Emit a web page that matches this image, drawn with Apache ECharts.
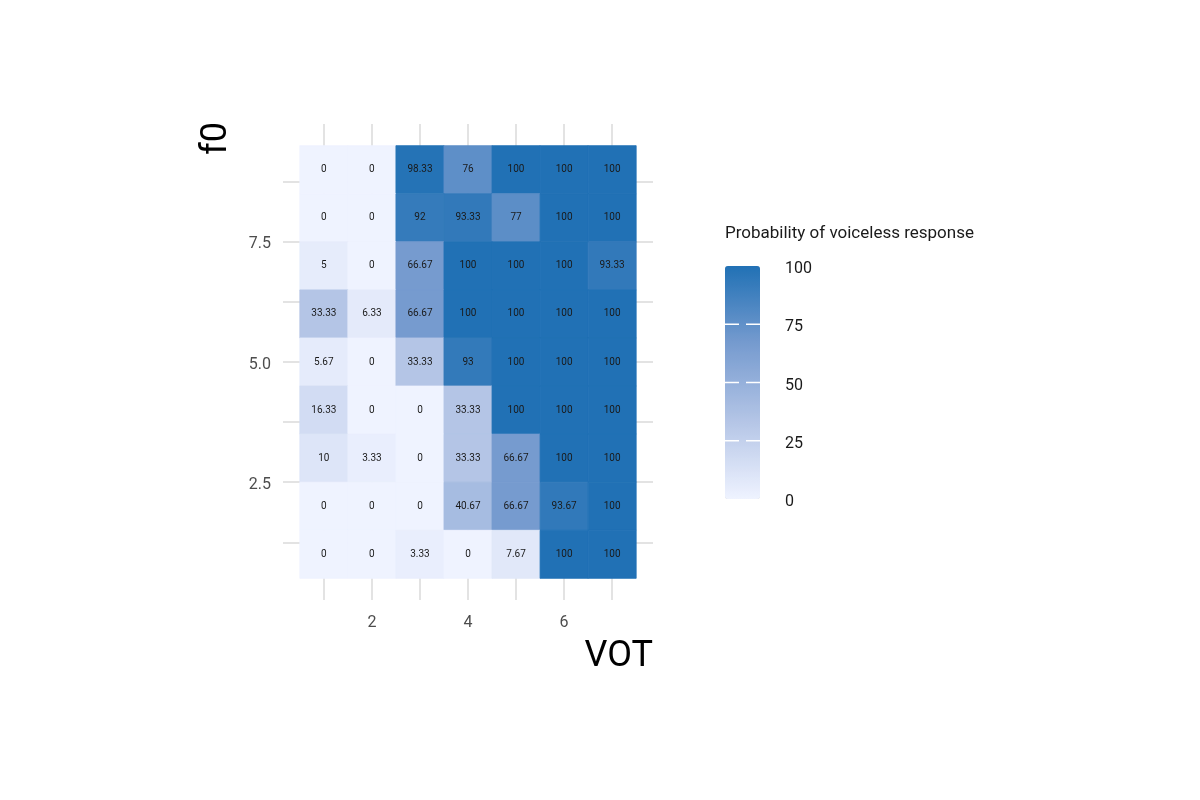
<!DOCTYPE html>
<html>
<head>
<meta charset="utf-8">
<script src="https://cdn.jsdelivr.net/npm/echarts@6/dist/echarts.min.js"></script>
<style>
  html, body { margin: 0; padding: 0; background: #fff; }
  #chart { width: 1200px; height: 800px; }
</style>
</head>
<body>
<div id="chart"></div>
<script>
// VOT steps (columns) and f0 steps (rows, listed top to bottom)
var votSteps = [1, 2, 3, 4, 5, 6, 7];
var f0Steps = [9, 8, 7, 6, 5, 4, 3, 2, 1];
// probability of voiceless response, one row per f0 step
var probRows = [
    [0, 0, 98.33, 76, 100, 100, 100],
    [0, 0, 92, 93.33, 77, 100, 100],
    [5, 0, 66.67, 100, 100, 100, 93.33],
    [33.33, 6.33, 66.67, 100, 100, 100, 100],
    [5.67, 0, 33.33, 93, 100, 100, 100],
    [16.33, 0, 0, 33.33, 100, 100, 100],
    [10, 3.33, 0, 33.33, 66.67, 100, 100],
    [0, 0, 0, 40.67, 66.67, 93.67, 100],
    [0, 0, 3.33, 0, 7.67, 100, 100]
];
var xLabelTicks = [2, 4, 6];
var yGridTicks = [1.25, 2.5, 3.75, 5, 6.25, 7.5, 8.75];
var yLabelTicks = [2.5, 5, 7.5];
var legendTicks = [0, 25, 50, 75, 100];
var legendInnerTicks = [25, 50, 75];

var font = "Roboto, 'Liberation Sans', sans-serif";
var gridColor = '#dadada';

var cells = [];
f0Steps.forEach(function (f, r) {
    votSteps.forEach(function (v, c) {
        cells.push([v, f, probRows[r][c]]);
    });
});

function renderTile(params, api) {
    var x = api.value(0), y = api.value(1), val = api.value(2);
    var p0 = api.coord([x - 0.5, y + 0.5]);
    var p1 = api.coord([x + 0.5, y - 0.5]);
    var c = api.visual('color');
    return {
        type: 'group',
        children: [{
            type: 'rect',
            shape: {x: p0[0], y: p0[1], width: p1[0] - p0[0], height: p1[1] - p0[1]},
            style: {fill: c, stroke: c, lineWidth: 0.8}
        }, {
            type: 'text',
            z2: 10,
            style: {
                text: String(val),
                x: (p0[0] + p1[0]) / 2,
                y: (p0[1] + p1[1]) / 2,
                align: 'center',
                verticalAlign: 'middle',
                font: '10px ' + font,
                fill: '#1a1a1a'
            }
        }]
    };
}

// white colourbar ticks on both edges of the legend bar
function renderBarTick(params, api) {
    var v = api.value(0);
    var l = api.coord([0, v]);
    var r = api.coord([1, v]);
    var len = (r[0] - l[0]) * 0.4;
    var st = {stroke: '#fff', lineWidth: 1.5};
    return {
        type: 'group',
        children: [
            {type: 'line', shape: {x1: l[0], y1: l[1], x2: l[0] + len, y2: l[1]}, style: st},
            {type: 'line', shape: {x1: r[0] - len, y1: r[1], x2: r[0], y2: r[1]}, style: st}
        ]
    };
}

function shifted(s) { return '{a|' + s + '}'; }

var myChart = echarts.init(document.getElementById('chart'));
var option = {
    backgroundColor: '#fff',
    animation: false,
    title: [{
        text: 'VOT',
        right: 547,
        top: 639,
        padding: 0,
        textStyle: {fontFamily: font, fontSize: 36, fontWeight: 'normal', color: '#000'}
    }, {
        text: 'Probability of voiceless response',
        left: 725,
        top: 225,
        padding: 0,
        textStyle: {fontFamily: font, fontSize: 17, fontWeight: 'normal', color: '#1a1a1a'}
    }],
    graphic: [{
        type: 'text',
        left: 199,
        top: 122,
        rotation: Math.PI / 2,
        style: {text: 'f0', font: '36px ' + font, fill: '#000'}
    }],
    grid: [
        {left: 283, top: 124, width: 370, height: 476},
        {left: 725, top: 266, width: 35, height: 233}
    ],
    xAxis: [{
        type: 'value',
        gridIndex: 0,
        min: 0.15,
        max: 7.85,
        axisLine: {show: false},
        axisTick: {show: false, customValues: votSteps},
        axisLabel: {
            customValues: xLabelTicks,
            margin: 15,
            color: '#4d4d4d',
            fontFamily: font,
            fontSize: 16
        },
        splitLine: {show: true, lineStyle: {color: gridColor, width: 1.5}}
    }, {
        type: 'value',
        gridIndex: 1,
        min: 0,
        max: 1,
        show: false
    }],
    yAxis: [{
        type: 'value',
        gridIndex: 0,
        min: 0.05,
        max: 9.95,
        axisLine: {show: false},
        axisTick: {show: false, customValues: yGridTicks},
        axisLabel: {
            customValues: yLabelTicks,
            formatter: function (v) { return shifted(v.toFixed(1)); },
            margin: 12,
            rich: {a: {padding: [5, 0, 0, 0], color: '#4d4d4d', fontFamily: font, fontSize: 16}}
        },
        splitLine: {show: true, lineStyle: {color: gridColor, width: 1.5}}
    }, {
        type: 'value',
        gridIndex: 1,
        position: 'right',
        min: 0,
        max: 100,
        axisLine: {show: false},
        axisTick: {show: false, customValues: legendTicks},
        axisLabel: {
            customValues: legendTicks,
            formatter: function (v) { return shifted(String(v)); },
            margin: 25,
            rich: {a: {padding: [6, 0, 0, 0], color: '#1a1a1a', fontFamily: font, fontSize: 16}}
        },
        splitLine: {show: false}
    }],
    visualMap: {
        type: 'continuous',
        min: 0,
        max: 100,
        dimension: 2,
        seriesIndex: 0,
        calculable: false,
        left: 725,
        top: 266,
        padding: 0,
        itemWidth: 35,
        itemHeight: 233,
        inRange: {color: ['#eff3ff', '#b4c5e6', '#769bcf', '#2171b5']}
    },
    series: [{
        type: 'custom',
        xAxisIndex: 0,
        yAxisIndex: 0,
        renderItem: renderTile,
        encode: {x: 0, y: 1},
        data: cells
    }, {
        type: 'custom',
        xAxisIndex: 1,
        yAxisIndex: 1,
        z: 10,
        silent: true,
        renderItem: renderBarTick,
        encode: {y: 0},
        data: legendInnerTicks.map(function (v) { return [v]; })
    }]
};
myChart.setOption(option);
</script>
</body>
</html>
